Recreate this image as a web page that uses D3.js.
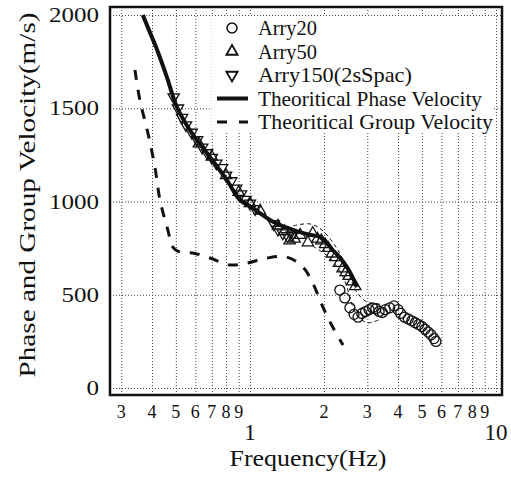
<!DOCTYPE html>
<html>
<head>
<meta charset="utf-8">
<script src="https://cdn.jsdelivr.net/npm/d3@7"></script>
<style>
  body { margin: 0; background: #fff; }
  text { font-family: "Liberation Serif", "Times New Roman", serif; fill: #111; }
</style>
</head>
<body>
<div class="canvas"></div>
<script>
// theoretical curves
const phaseFreq = [0.367, 0.39, 0.419, 0.459, 0.505, 0.57, 0.688, 0.806, 0.911, 1.0, 1.098, 1.206, 1.324, 1.45, 1.597, 1.75, 1.925, 2.05, 2.17, 2.32, 2.48, 2.6, 2.72];
const phaseVel = [2000, 1915, 1815, 1670, 1507, 1383, 1239, 1115, 1008, 975, 938, 901, 874, 855, 836, 822, 810, 780, 740, 700, 649, 600, 541];

const groupFreq = [0.341, 0.357, 0.385, 0.411, 0.431, 0.464, 0.486, 0.519, 0.586, 0.688, 0.829, 0.972, 1.172, 1.413, 1.642, 1.80, 1.98, 2.17, 2.39];
const groupVel = [1705, 1544, 1367, 1185, 1008, 847, 756, 729, 724, 697, 660, 670, 697, 702, 649, 563, 434, 327, 231];

// observed dispersion points
const freq20 = [2.32, 2.43, 2.55, 2.65, 2.75, 2.85, 2.95, 3.05, 3.15, 3.25, 3.35, 3.45, 3.55, 3.7, 3.85, 4.0, 4.1, 4.25, 4.4, 4.55, 4.7, 4.85, 5.0, 5.15, 5.3, 5.45, 5.6, 5.7];
const vel20 = [525, 483, 430, 395, 380, 400, 410, 420, 430, 425, 410, 405, 420, 430, 440, 420, 400, 380, 370, 360, 350, 340, 330, 315, 300, 285, 265, 250];

const freq50 = [0.62, 0.70, 0.80, 0.90, 1.00, 1.10, 1.30, 1.38, 1.45, 1.52, 1.60, 1.72, 1.80, 1.88, 1.95, 2.02, 2.08, 2.15, 2.22, 2.30, 2.38, 2.45, 2.52, 2.60, 2.68];
const vel50 = [1310, 1240, 1140, 1050, 990, 950, 870, 840, 790, 800, 820, 780, 830, 800, 790, 770, 750, 720, 700, 670, 640, 620, 600, 570, 545];

const freq150 = [0.49, 0.51, 0.53, 0.55, 0.58, 0.61, 0.64, 0.67, 0.70, 0.73, 0.77, 0.80, 0.84, 0.88, 0.92, 0.96, 1.00, 1.05, 1.25, 1.30, 1.36, 1.42, 1.48];
const vel150 = [1560, 1500, 1450, 1410, 1370, 1330, 1290, 1260, 1235, 1205, 1180, 1140, 1110, 1070, 1040, 1010, 990, 960, 880, 850, 830, 815, 820];

// thin dashed spread around the observations
const upperFreq = [1.5, 1.75, 1.95, 2.2, 2.45, 2.7, 3.0, 3.4];
const upperVel = [870, 880, 850, 770, 660, 520, 460, 450];
const lowerFreq = [1.8, 2.1, 2.4, 2.7, 3.0, 3.4];
const lowerVel = [760, 700, 590, 400, 350, 370];

// ticks
const minorTicks = [0.3, 0.4, 0.5, 0.6, 0.7, 0.8, 0.9, 2, 3, 4, 5, 6, 7, 8, 9];
const majorTicks = [1, 10];
const yTicks = [0, 500, 1000, 1500, 2000];

const legendLabels = ['Arry20', 'Arry50', 'Arry150(2sSpac)', 'Theoritical Phase Velocity', 'Theoritical Group Velocity'];
const legendWidths = [59, 59, 154, 224, 235];

const svg = d3.select('.canvas')
    .append('svg')
    .attr('width', 511)
    .attr('height', 477);

const margin = { top: 7, right: 9, bottom: 82, left: 110 };
const graphWidth = 511 - margin.left - margin.right;
const graphHeight = 477 - margin.top - margin.bottom;

const graph = svg.append('g')
    .attr('transform', `translate(${margin.left},${margin.top})`);

const x = d3.scaleLog()
    .domain([0.27, 10.58])
    .range([0, graphWidth]);

const y = d3.scaleLinear()
    .domain([-37.5, 2043])
    .range([graphHeight, 0]);

// dotted grid
const gridX = graph.append('g')
    .call(d3.axisBottom(x).tickValues(minorTicks.concat(majorTicks)).tickSize(graphHeight).tickFormat(''));
gridX.select('.domain').remove();
gridX.selectAll('line')
    .attr('stroke', '#444')
    .attr('stroke-width', 1)
    .attr('stroke-dasharray', '1,2');

const gridY = graph.append('g')
    .call(d3.axisLeft(y).tickValues(yTicks).tickSize(-graphWidth).tickFormat(''));
gridY.select('.domain').remove();
gridY.selectAll('line')
    .attr('stroke', '#444')
    .attr('stroke-width', 1)
    .attr('stroke-dasharray', '1,2');

// legend background hides the grid
graph.append('rect')
    .attr('x', 102).attr('y', 9)
    .attr('width', 282).attr('height', 117)
    .attr('fill', '#fff');

const line = d3.line()
    .x(d => x(d[0]))
    .y(d => y(d[1]))
    .curve(d3.curveCatmullRom);

const zip = (a, b) => a.map((v, i) => [v, b[i]]);

// spread lines
[zip(upperFreq, upperVel), zip(lowerFreq, lowerVel)].forEach(pts => {
    graph.append('path')
        .attr('d', line(pts))
        .attr('fill', 'none')
        .attr('stroke', '#111')
        .attr('stroke-width', 1)
        .attr('stroke-dasharray', '4,3');
});

// theoretical group velocity
graph.append('path')
    .attr('d', line(zip(groupFreq, groupVel)))
    .attr('fill', 'none')
    .attr('stroke', '#111')
    .attr('stroke-width', 3)
    .attr('stroke-dasharray', '10,10');

// theoretical phase velocity
graph.append('path')
    .attr('d', line(zip(phaseFreq, phaseVel)))
    .attr('fill', 'none')
    .attr('stroke', '#111')
    .attr('stroke-width', 4);

const triUp = d3.symbol().type(d3.symbolTriangle).size(55);

// observed markers
graph.selectAll('.c20')
    .data(zip(freq20, vel20))
    .enter().append('circle')
    .attr('cx', d => x(d[0]))
    .attr('cy', d => y(d[1]))
    .attr('r', 5)
    .attr('fill', 'none')
    .attr('stroke', '#111')
    .attr('stroke-width', 1.3);

graph.selectAll('.t50')
    .data(zip(freq50, vel50))
    .enter().append('path')
    .attr('d', triUp)
    .attr('transform', d => `translate(${x(d[0])},${y(d[1])})`)
    .attr('fill', 'none')
    .attr('stroke', '#111')
    .attr('stroke-width', 1.3);

graph.selectAll('.t150')
    .data(zip(freq150, vel150))
    .enter().append('path')
    .attr('d', triUp)
    .attr('transform', d => `translate(${x(d[0])},${y(d[1])}) rotate(180)`)
    .attr('fill', 'none')
    .attr('stroke', '#111')
    .attr('stroke-width', 1.3);

// legend
const legend = graph.append('g').attr('transform', 'translate(122, 21)');
const rowH = 23.5;
legendLabels.forEach((label, i) => {
    const row = legend.append('g').attr('transform', `translate(0, ${i * rowH})`);
    if (i === 0) {
        row.append('circle').attr('r', 5).attr('fill', 'none').attr('stroke', '#111').attr('stroke-width', 1.5);
    } else if (i === 1 || i === 2) {
        row.append('path').attr('d', triUp)
            .attr('transform', i === 2 ? 'rotate(180)' : null)
            .attr('fill', 'none').attr('stroke', '#111').attr('stroke-width', 1.8);
    } else {
        row.append('line')
            .attr('x1', -15).attr('x2', 16)
            .attr('stroke', '#111')
            .attr('stroke-width', i === 3 ? 4 : 3)
            .attr('stroke-dasharray', i === 4 ? '10,12' : null);
    }
    row.append('text')
        .attr('x', 26)
        .attr('y', 7)
        .attr('font-size', 21)
        .attr('textLength', legendWidths[i])
        .attr('lengthAdjust', 'spacingAndGlyphs')
        .text(label);
});

// frame
graph.append('rect')
    .attr('width', graphWidth)
    .attr('height', graphHeight)
    .attr('fill', 'none')
    .attr('stroke', '#111')
    .attr('stroke-width', 2.5);

// tick labels
graph.selectAll('.ylab')
    .data(yTicks)
    .enter().append('text')
    .attr('x', -11)
    .attr('y', d => y(d) + 7)
    .attr('text-anchor', 'end')
    .attr('font-size', 21)
    .attr('textLength', d => String(d).length * 12.5)
    .attr('lengthAdjust', 'spacingAndGlyphs')
    .text(d => d);

graph.selectAll('.xminor')
    .data(minorTicks)
    .enter().append('text')
    .attr('x', d => x(d))
    .attr('y', graphHeight + 23)
    .attr('text-anchor', 'middle')
    .attr('font-size', 18)
    .text(d => d < 1 ? Math.round(d * 10) : d);

graph.selectAll('.xmajor')
    .data(majorTicks)
    .enter().append('text')
    .attr('x', d => x(d))
    .attr('y', graphHeight + 45)
    .attr('text-anchor', 'middle')
    .attr('font-size', 23)
    .text(d => d);

// axis titles
svg.append('text')
    .attr('x', 308)
    .attr('y', 466)
    .attr('text-anchor', 'middle')
    .attr('font-size', 23)
    .attr('textLength', 157)
    .attr('lengthAdjust', 'spacingAndGlyphs')
    .text('Frequency(Hz)');

svg.append('text')
    .attr('transform', 'translate(35, 195) rotate(-90)')
    .attr('text-anchor', 'middle')
    .attr('font-size', 23)
    .attr('textLength', 365)
    .attr('lengthAdjust', 'spacingAndGlyphs')
    .text('Phase and Group Velocity(m/s)');
</script>
</body>
</html>
